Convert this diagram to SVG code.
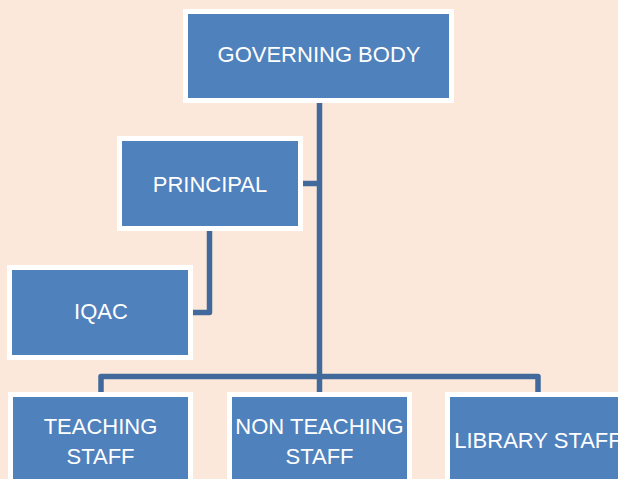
<svg xmlns="http://www.w3.org/2000/svg" width="618" height="479" viewBox="0 0 618 479">
<style>
.box{fill:#4f81bd;stroke:#ffffff;stroke-width:5}
.lbl{fill:#ffffff;font-family:"Liberation Sans",Arial,sans-serif;font-size:22px;text-anchor:middle}
.conn{fill:none;stroke:#41699c;stroke-width:5.5;stroke-linejoin:round}
</style>
<rect x="0" y="0" width="618" height="479" fill="#fce8da"/>
<g id="connectors">
<path class="conn" d="M319.5 100 V395"/>
<path class="conn" d="M300 183.5 H319.5"/>
<path class="conn" d="M209.5 229 V312.5 H190"/>
<path class="conn" d="M101 395 V376.5 H538 V395"/>
</g>
<g id="governing-body">
<rect class="box" x="185.5" y="11.5" width="266" height="89"/>
<text class="lbl" x="319" y="62">GOVERNING BODY</text>
</g>
<g id="principal">
<rect class="box" x="119.5" y="138.5" width="181" height="90"/>
<text class="lbl" x="210" y="192">PRINCIPAL</text>
</g>
<g id="iqac">
<rect class="box" x="9.5" y="267.5" width="181" height="90"/>
<text class="lbl" x="101" y="319">IQAC</text>
</g>
<g id="teaching-staff">
<rect class="box" x="10.5" y="394.5" width="180" height="100"/>
<text class="lbl" x="100.5" y="434">TEACHING</text>
<text class="lbl" x="100.5" y="464">STAFF</text>
</g>
<g id="non-teaching-staff">
<rect class="box" x="229.5" y="394.5" width="180" height="100"/>
<text class="lbl" x="319.5" y="434">NON TEACHING</text>
<text class="lbl" x="319.5" y="464">STAFF</text>
</g>
<g id="library-staff">
<rect class="box" x="447.5" y="394.5" width="180" height="100"/>
<text class="lbl" x="538" y="448">LIBRARY STAFF</text>
</g>
</svg>
